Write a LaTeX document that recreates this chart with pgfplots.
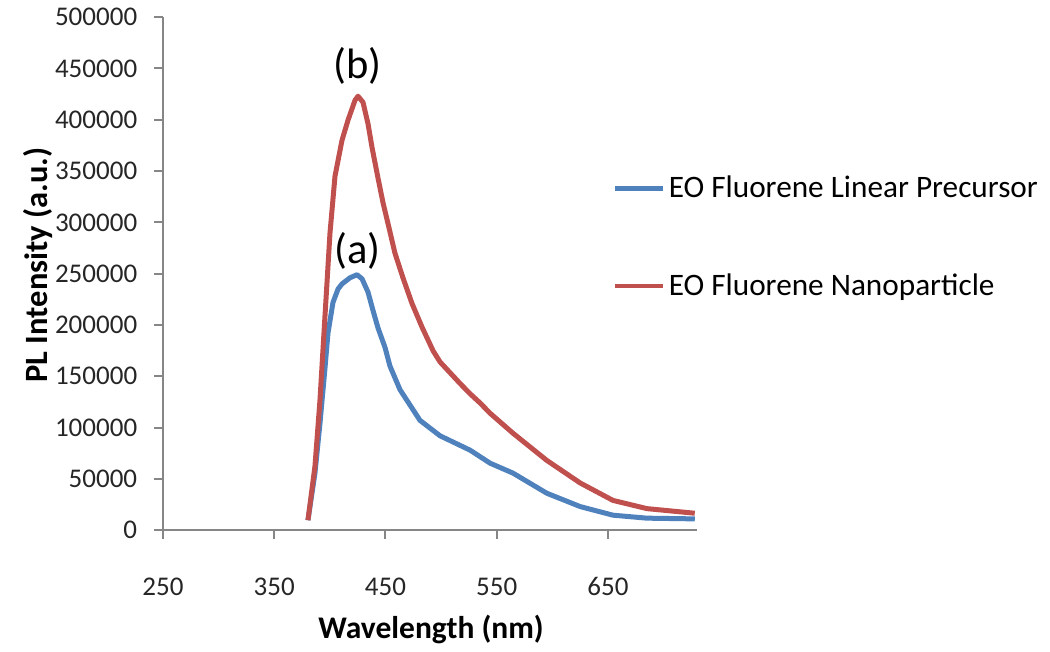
\documentclass[border=0pt]{standalone}
\usepackage{fontspec}
\setmainfont{Carlito}
\usepackage{pgfplots}
\usepackage{pgfplotstable}
\pgfplotsset{compat=1.18}

\definecolor{xlblue}{HTML}{4F81BD}
\definecolor{xlred}{HTML}{C0504D}
\definecolor{axgray}{HTML}{868686}

% wavelength (nm), PL intensity (a.u.)
\pgfplotstableread{
lambda I
380.3 9700
386.6 55600
391.1 104000
395.6 157900
398.3 192000
402.8 222000
407.3 235000
410.9 240000
418.1 246000
424.4 249000
428.9 245000
434.3 232000
438.8 214000
443.3 197000
449.6 178000
454.0 160000
463.0 137000
481.0 107000
499.0 92000
526.0 78000
544.0 65300
564.6 55600
595.0 36000
625.0 23000
654.5 14600
685.0 11700
728.0 11000
}\precursor

\pgfplotstableread{
lambda I
380.3 9700
386.6 62400
391.1 126700
395.6 208600
400.1 289500
404.6 345000
410.9 380000
416.3 399600
422.6 419000
425.3 423000
429.8 417000
434.3 396000
437.9 373000
443.3 343000
447.8 319000
453.1 295000
458.5 270000
465.7 246000
473.8 221000
482.8 198000
492.7 175000
499.0 164000
517.0 143000
526.0 133000
535.0 124000
544.0 114000
564.6 94500
595.0 68000
625.0 46000
654.5 29000
685.0 21000
728.0 16500
}\nanoparticle

\begin{document}
\begin{tikzpicture}
\begin{axis}[
  name=ax, at={(0,0)}, anchor=south west,
  scale only axis, width=213.6pt, height=205.2pt,
  xmin=250, xmax=730, ymin=0, ymax=500000,
  axis x line=bottom, axis y line=left,
  axis line style={-, draw=axgray, line width=0.8pt},
  xtick={250,350,450,550,650},
  ytick={0,50000,100000,150000,200000,250000,300000,350000,400000,450000,500000},
  tick style={draw=axgray, line width=0.8pt},
  tick align=outside, major tick length=3.4pt,
  scaled y ticks=false,
  /pgf/number format/fixed,
  /pgf/number format/assume math mode=true,
  /pgf/number format/set thousands separator={},
  ticklabel style={font=\fontsize{10.8}{12}\selectfont, text=black!85},
  xticklabel style={yshift=-12pt},
  yticklabel style={xshift=-3.4pt},
  xlabel={Wavelength (nm)},
  ylabel={PL Intensity (a.u.)},
  xlabel style={font=\fontsize{12.6}{14}\selectfont\bfseries, at={(axis description cs:0.502,-0.193)}, anchor=center},
  ylabel style={font=\fontsize{13}{15}\selectfont\bfseries, at={(axis description cs:-0.234,0.517)}, anchor=center},
  legend style={draw=none, fill=none, at={(0.841,0.571)}, anchor=west,
    font=\fontsize{12.5}{14}\selectfont, row sep=26pt, inner sep=0pt,
    nodes={inner sep=1.5pt}},
  legend cell align=left,
  legend image code/.code={\draw[#1, line width=1.8pt] (0pt,0pt) -- (19.2pt,0pt);},
]
\addplot[xlblue, line width=2pt, line join=round] table[x=lambda, y=I] {\precursor};
\addlegendentry{EO Fluorene Linear Precursor}
\addplot[xlred, line width=2pt, line join=round] table[x=lambda, y=I] {\nanoparticle};
\addlegendentry{EO Fluorene Nanoparticle}
\node[font=\fontsize{17}{20}\selectfont] at (axis cs:425,272000) {(a)};
\node[font=\fontsize{17}{20}\selectfont] at (axis cs:425,453000) {(b)};
\end{axis}
\path (-65.2pt,-46.4pt) rectangle (354.8pt,210.8pt);
\end{tikzpicture}
\end{document}
